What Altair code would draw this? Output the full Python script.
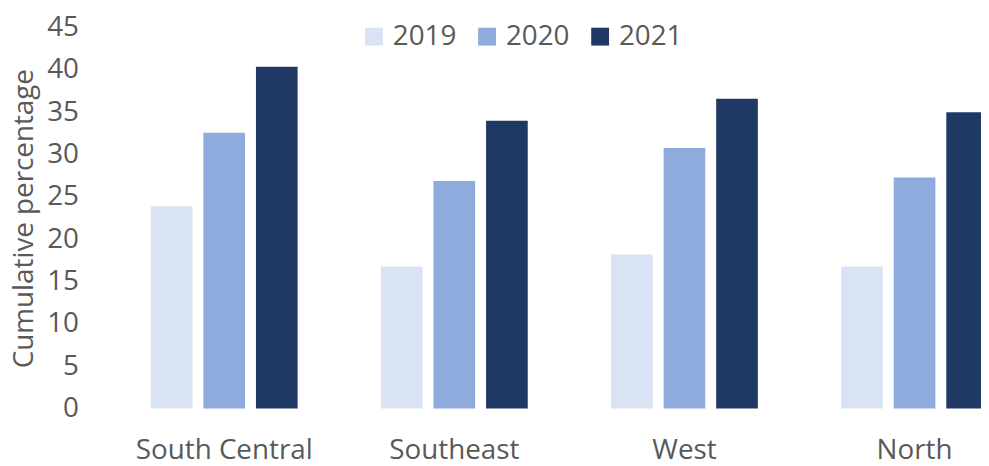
import altair as alt
import pandas as pd

regions = ["South Central", "Southeast", "West", "North"]
years = ["2019", "2020", "2021"]
v2019 = [23.9, 16.8, 18.2, 16.8]
v2020 = [32.6, 26.9, 30.8, 27.3]
v2021 = [40.4, 34.0, 36.6, 35.0]
colors = ["#DAE3F3", "#8FAADC", "#203864"]
y_ticks = list(range(0, 50, 5))

rows = []
for yr, vals in zip(years, [v2019, v2020, v2021]):
    for r, v in zip(regions, vals):
        rows.append({"region": r, "year": yr, "value": v})
df = pd.DataFrame(rows)

font = "Open Sans"
grey = "#595959"
fs = 28

chart = alt.Chart(df).mark_bar().encode(
    x=alt.X(
        "region:N", sort=regions,
        scale=alt.Scale(range=[0, 928], paddingInner=0.362, paddingOuter=0.181),
        axis=alt.Axis(title=None, labelAngle=0, domain=False, ticks=False, tickSize=0,
                      labelPadding=28, labelFontSize=fs, labelColor=grey, labelFont=font),
    ),
    xOffset=alt.XOffset("year:N", sort=years, scale=alt.Scale(paddingInner=0.2075, paddingOuter=0)),
    y=alt.Y(
        "value:Q",
        scale=alt.Scale(domain=[0, 45], nice=False),
        axis=alt.Axis(values=y_ticks, title="Cumulative percentage", grid=False, domain=False,
                      ticks=False, tickSize=0, labelPadding=31, labelFontSize=fs, labelColor=grey,
                      labelFont=font, titleFont=font, titleFontSize=fs, titleColor=grey,
                      titleFontWeight="normal", titlePadding=8),
    ),
    color=alt.Color(
        "year:N", sort=years,
        scale=alt.Scale(domain=years, range=colors),
        legend=alt.Legend(title=None, orient="none", legendX=253, legendY=-5, direction="horizontal",
                          symbolType="square", symbolSize=324, symbolStrokeWidth=0,
                          labelFontSize=fs, labelFont=font, labelColor=grey, labelOffset=5,
                          columnPadding=16, padding=0),
    ),
).properties(
    width=879, height=384,
    autosize=alt.AutoSizeParams(type="none"),
    padding={"left": 102, "top": 18, "right": 0, "bottom": 56},
).configure_view(stroke=None)

chart.save("out.html", embed_options={"renderer": "svg", "actions": False})
